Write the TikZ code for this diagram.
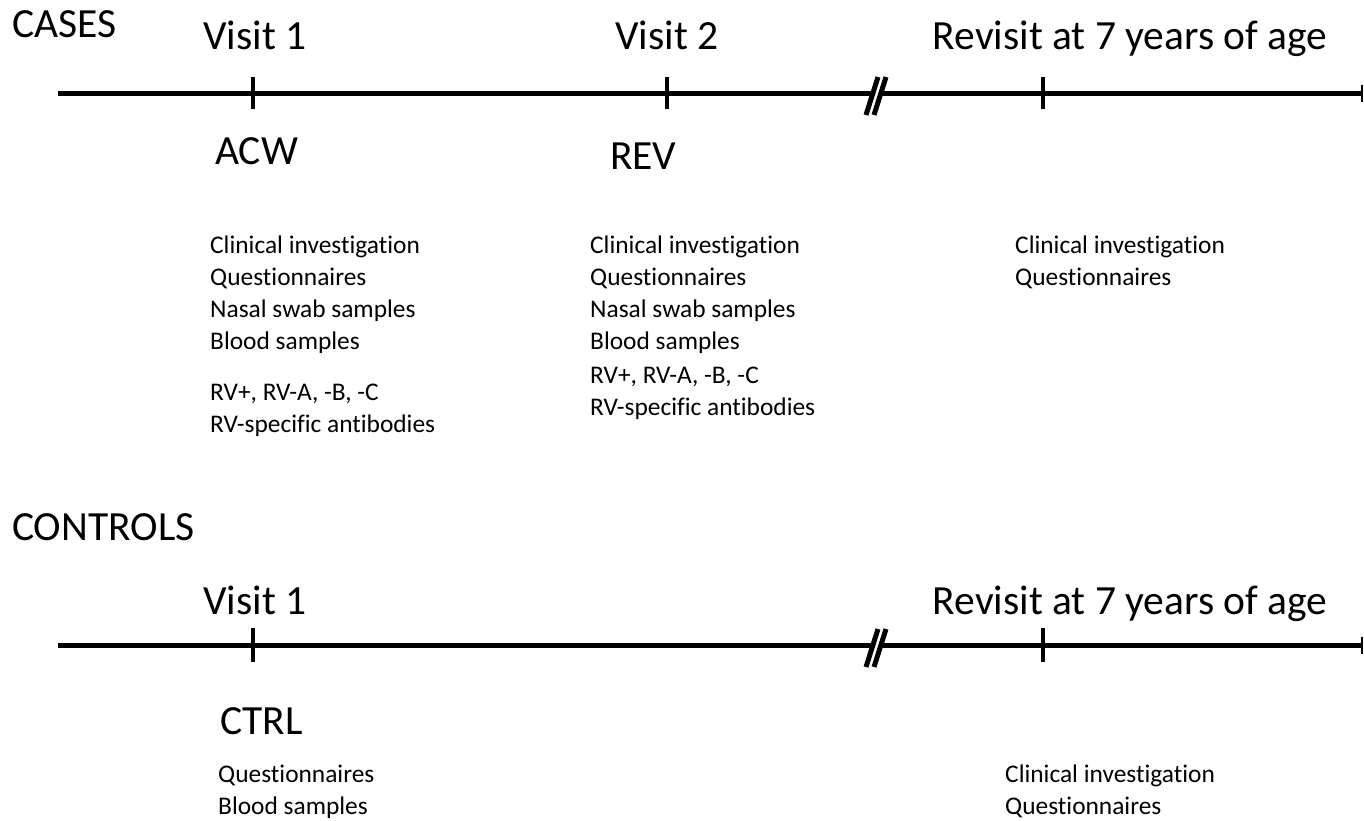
\documentclass[tikz,border=0pt]{standalone}
\usepackage{fontspec}
\setmainfont{Carlito}[Ligatures={NoCommon},RawFeature={-liga;-calt;-dlig;-clig}]
\begin{document}
\begin{tikzpicture}[x=1pt,y=-1pt,
  axis/.style={line width=5pt},
  tick/.style={line width=4pt},
  brk/.style={line width=5pt},
  endbar/.style={line width=1.8pt},
  head/.style={font=\fontsize{41.5}{48}\selectfont,anchor=base,inner sep=0pt},
  grp/.style={font=\fontsize{41.5}{48}\selectfont,anchor=base west,inner sep=0pt},
  lst/.style={font=\fontsize{25.4}{32}\selectfont,anchor=north west,inner sep=0pt,align=left}]
\useasboundingbox (0,0) rectangle (1364,820);
% ---------- CASES ----------
\node[grp] (cases) at (12,37) {CASES};
\coordinate (a0) at (58,93);
\coordinate (a1) at (871,93);
\coordinate (a2) at (881,93);
\coordinate (a3) at (1362,93);
\draw[axis] (a0) -- (a1);
\draw[axis] (a2) -- (a3);
\draw[endbar] (1362,84.5) -- (1362,101.5);
\draw[brk] (866,115) -- (878,77);
\draw[brk] (874,115) -- (886,77);
\draw[tick] (253,77) -- (253,109);
\draw[tick] (667,77) -- (667,109);
\draw[tick] (1043,77) -- (1043,109);
\node[head] (v1) at (255,49) {Visit 1};
\node[head] (v2) at (667,49) {Visit 2};
\node[head] (rv) at (1130,49) {Revisit at 7 years of age};
\node[grp] (acw) at (215,164) {ACW};
\node[grp] (rev) at (610,169) {REV};
\node[lst] (l1) at (210,236) {Clinical investigation\\Questionnaires\\Nasal swab samples\\Blood samples};
\node[lst] (l1b) at (210,384) {RV+, RV-A, -B, -C\\RV-specific antibodies};
\node[lst] (l2) at (590,236) {Clinical investigation\\Questionnaires\\Nasal swab samples\\Blood samples};
\node[lst] (l2b) at (590,367) {RV+, RV-A, -B, -C\\RV-specific antibodies};
\node[lst] (l3) at (1015,236) {Clinical investigation\\Questionnaires};
% ---------- CONTROLS ----------
\node[grp] (ctrls) at (12,540) {CONTROLS};
\coordinate (b0) at (58,645);
\coordinate (b1) at (871,645);
\coordinate (b2) at (881,645);
\coordinate (b3) at (1362,645);
\draw[axis] (b0) -- (b1);
\draw[axis] (b2) -- (b3);
\draw[endbar] (1362,636.5) -- (1362,653.5);
\draw[brk] (866,667) -- (878,629);
\draw[brk] (874,667) -- (886,629);
\draw[tick] (253,628) -- (253,662);
\draw[tick] (1043,628) -- (1043,662);
\node[head] (bv1) at (255,614) {Visit 1};
\node[head] (brv) at (1130,614) {Revisit at 7 years of age};
\node[grp] (ctrl) at (220,734) {CTRL};
\node[lst] (l4) at (218,765) {Questionnaires\\Blood samples};
\node[lst] (l5) at (1005,765) {Clinical investigation\\Questionnaires};
\end{tikzpicture}
\end{document}
